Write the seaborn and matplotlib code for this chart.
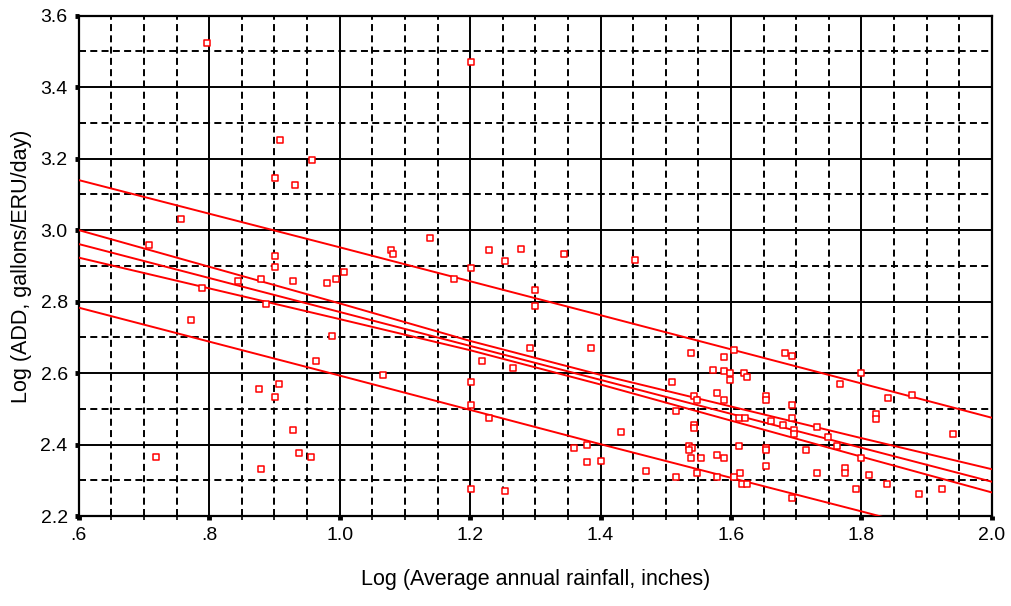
import matplotlib
matplotlib.use('Agg')
import matplotlib.pyplot as plt
import numpy as np
import pandas as pd
import seaborn as sns
from matplotlib.ticker import MultipleLocator, FuncFormatter

# log(rainfall) vs log(ADD)
rain_log = [0.797, 0.909, 0.958, 0.901, 0.931, 0.756, 0.707, 0.901, 0.901, 0.844,
            0.879, 0.789, 0.929, 0.980, 0.994, 1.007, 0.887, 0.772, 0.988, 0.964,
            0.876, 0.907, 0.901, 0.929, 0.937, 0.956, 0.879, 0.718, 1.202, 1.078,
            1.081, 1.139, 1.175, 1.202, 1.229, 1.254, 1.278, 1.300, 1.344, 1.453,
            1.300, 1.067, 1.218, 1.265, 1.292, 1.385, 1.202, 1.202, 1.229, 1.510,
            1.516, 1.431, 1.360, 1.379, 1.379, 1.401, 1.470, 1.516, 1.202, 1.254,
            1.538, 1.590, 1.604, 1.683, 1.694, 1.573, 1.590, 1.598, 1.620, 1.625,
            1.598, 1.800, 1.767, 1.579, 1.543, 1.548, 1.590, 1.653, 1.653, 1.841,
            1.877, 1.694, 1.612, 1.622, 1.661, 1.694, 1.823, 1.823, 1.543, 1.543,
            1.680, 1.696, 1.696, 1.732, 1.749, 1.762, 1.940, 1.535, 1.540, 1.535,
            1.612, 1.653, 1.653, 1.715, 1.538, 1.554, 1.579, 1.590, 1.800, 1.653,
            1.548, 1.614, 1.732, 1.775, 1.775, 1.811, 1.579, 1.604, 1.617, 1.625,
            1.839, 1.792, 1.923, 1.888, 1.694]
add_log = [3.525, 3.251, 3.196, 3.147, 3.127, 3.032, 2.958, 2.928, 2.898, 2.858,
           2.863, 2.837, 2.858, 2.853, 2.863, 2.883, 2.792, 2.748, 2.704, 2.634,
           2.555, 2.569, 2.534, 2.440, 2.376, 2.365, 2.331, 2.365, 3.470, 2.944,
           2.933, 2.978, 2.863, 2.893, 2.944, 2.914, 2.948, 2.833, 2.933, 2.917,
           2.789, 2.594, 2.634, 2.614, 2.669, 2.669, 2.574, 2.510, 2.475, 2.574,
           2.495, 2.435, 2.390, 2.400, 2.350, 2.355, 2.325, 2.310, 2.276, 2.271,
           2.657, 2.644, 2.665, 2.657, 2.647, 2.609, 2.605, 2.600, 2.600, 2.589,
           2.580, 2.600, 2.570, 2.544, 2.535, 2.525, 2.525, 2.535, 2.525, 2.529,
           2.540, 2.512, 2.475, 2.475, 2.465, 2.475, 2.485, 2.471, 2.456, 2.446,
           2.456, 2.441, 2.430, 2.450, 2.420, 2.396, 2.430, 2.396, 2.390, 2.386,
           2.396, 2.390, 2.385, 2.386, 2.361, 2.361, 2.371, 2.361, 2.361, 2.341,
           2.320, 2.320, 2.320, 2.335, 2.320, 2.316, 2.310, 2.310, 2.290, 2.290,
           2.290, 2.276, 2.276, 2.261, 2.250]

# fitted line with confidence and prediction bands
fit_x = [0.6, 1.0, 1.2, 1.4, 1.8, 2.0]
fit_mid = [2.961, 2.771, 2.676, 2.581, 2.391, 2.296]
conf_hi = [3.000, 2.795, 2.690, 2.595, 2.418, 2.331]
conf_lo = [2.923, 2.751, 2.664, 2.568, 2.366, 2.266]
pred_hi = [3.140, 2.952, 2.857, 2.762, 2.571, 2.475]
pred_lo = [2.783, 2.593, 2.497, 2.401, 2.213, 2.117]

sns.set_style('white')
plt.rcParams['font.family'] = ['Liberation Sans', 'DejaVu Sans']
plt.rcParams['text.color'] = 'black'
plt.rcParams['axes.labelcolor'] = 'black'
plt.rcParams['xtick.color'] = 'black'
plt.rcParams['ytick.color'] = 'black'

fig, ax = plt.subplots(figsize=(10.11, 6.06), dpi=100)
fig.subplots_adjust(left=0.078, right=0.981, bottom=0.1485, top=0.974)

df = pd.DataFrame({'x': rain_log, 'y': add_log})
lines = {'fit': fit_mid, 'chi': conf_hi, 'clo': conf_lo, 'phi': pred_hi, 'plo': pred_lo}
for name, vals in lines.items():
    sns.lineplot(x=fit_x, y=vals, ax=ax, color='#ff0000', linewidth=1.4, zorder=3)

sns.scatterplot(data=df, x='x', y='y', ax=ax, marker='s', s=14,
                facecolor='white', edgecolor='#ff0000', linewidth=1.1, zorder=4)

ax.set_xlim(0.6, 2.0)
ax.set_ylim(2.2, 3.6)
ax.xaxis.set_major_locator(MultipleLocator(0.2))
ax.xaxis.set_minor_locator(MultipleLocator(0.05))
ax.yaxis.set_major_locator(MultipleLocator(0.2))
ax.yaxis.set_minor_locator(MultipleLocator(0.1))


def short_fmt(v, pos):
    s = f'{v:.1f}'
    return s[1:] if s.startswith('0') else s


ax.xaxis.set_major_formatter(FuncFormatter(short_fmt))
ax.yaxis.set_major_formatter(FuncFormatter(short_fmt))

ax.grid(which='major', color='black', linewidth=1.4, linestyle='-')
ax.grid(which='minor', color='black', linewidth=1.4, linestyle=(0, (3.6, 2.2)))
ax.set_axisbelow(True)
for sp in ax.spines.values():
    sp.set_color('black')
    sp.set_linewidth(1.6)

ax.tick_params(which='major', direction='out', length=3, width=3.5, color='black',
               labelsize=14, pad=5, labelcolor='black')
ax.tick_params(axis='x', which='minor', direction='out', length=3, width=1.2,
               color='black', bottom=True)
ax.tick_params(axis='y', which='minor', length=0, left=False)
ax.tick_params(axis='both', which='major', bottom=True, left=True)

ax.set_xlabel('Log (Average annual rainfall, inches)', fontsize=15.5, labelpad=18)
ax.set_ylabel('Log (ADD, gallons/ERU/day)', fontsize=15.5, labelpad=6)

fig.savefig('out.png', dpi=100)
